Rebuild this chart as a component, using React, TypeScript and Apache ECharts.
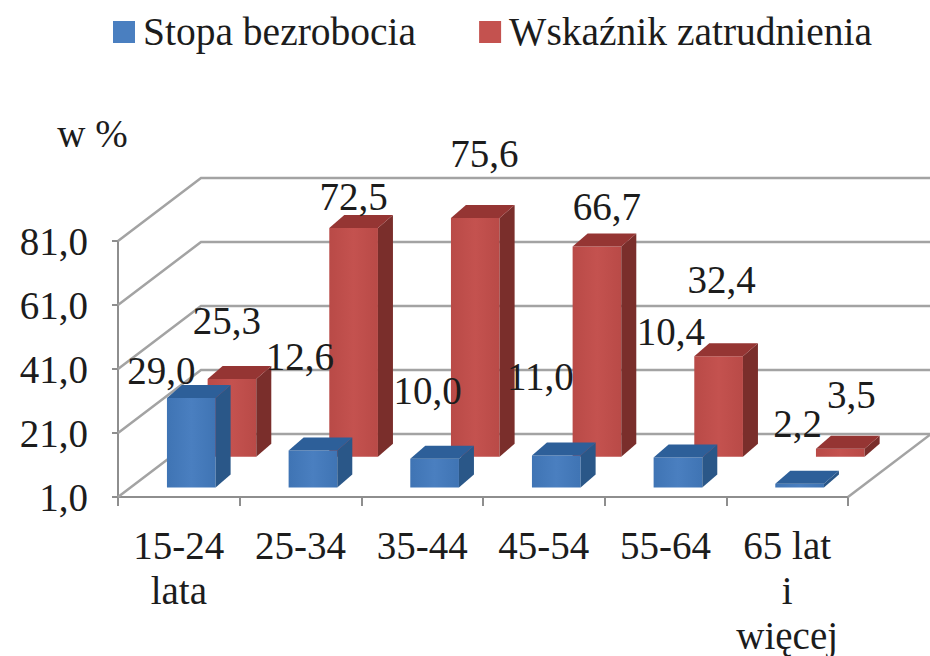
import React, { useEffect, useRef } from "react";
import * as echarts from "echarts";

const categories = ["15-24\nlata", "25-34", "35-44", "45-54", "55-64", "65 lat\ni\nwięcej"];
const unemployment = [29.0, 12.6, 10.0, 11.0, 10.4, 2.2];
const employment = [25.3, 72.5, 75.6, 66.7, 32.4, 3.5];
const valueTicks = [1, 21, 41, 61, 81];

const FONT = '"Liberation Serif", serif';
const DEPTH_X = 83;
const DEPTH_Y = 63;

const fmt = (v: number) => v.toFixed(1).replace(".", ",");

// Hand placement of the reference's data labels, relative to each bar's top centre.
const unemploymentNudges = [[-30, -27], [-13, -94], [-7, -68], [-16, -79], [-7, -126], [-2, -60]];
const employmentNudges = [[-5, -58], [0, -31], [9, -64], [10, -40], [3, -77], [11, -54]];

function barSeries(
  name: string,
  values: number[],
  nudges: number[][],
  depthShare: number,
  colors: { front: string; frontDark: string; side: string; top: string },
  z: number
) {
  return {
    name,
    type: "custom",
    z,
    data: values.map((v, i) => [i, v]),
    itemStyle: { color: colors.front },
    renderItem: (params: any, api: any) => {
      const i = api.value(0);
      const v = api.value(1);
      const top = api.coord([i, v]);
      const base = api.coord([i, valueTicks[0]]);
      const w = api.size([1, 0])[0] * 0.4;
      const ox = DEPTH_X * depthShare;
      const oy = DEPTH_Y * depthShare;
      const l = top[0] + ox - w / 2;
      const r = l + w;
      const t = top[1] - oy;
      const b = base[1] - oy;
      const sx = 15;
      const sy = 13;
      const poly = (points: number[][], fill: any) => ({ type: "polygon", shape: { points }, style: { fill } });
      const frontFill = new echarts.graphic.LinearGradient(0, 0, 1, 0, [
        { offset: 0, color: colors.frontDark },
        { offset: 0.5, color: colors.front },
        { offset: 1, color: colors.frontDark },
      ]);
      return {
        type: "group",
        children: [
          poly([[l, t], [r, t], [r, b], [l, b]], frontFill),
          poly([[r, t], [r + sx, t - sy], [r + sx, b - sy], [r, b]], colors.side),
          poly([[l, t], [l + sx, t - sy], [r + sx, t - sy], [r, t]], colors.top),
          {
            type: "text",
            z2: 10,
            style: {
              text: fmt(v),
              x: (l + r) / 2 + nudges[i][0],
              y: t + nudges[i][1],
              align: "center",
              verticalAlign: "middle",
              font: `39px ${FONT}`,
              fill: "#1c1c1c",
            },
          },
        ],
      };
    },
  };
}

const wallSeries = {
  type: "custom",
  z: 1,
  silent: true,
  data: valueTicks.map((v) => [0, v]),
  renderItem: (params: any, api: any) => {
    const y = api.coord([0, api.value(1)])[1];
    const cs = params.coordSys;
    const stroke = "#a3a3a3";
    const children: any[] = [
      {
        type: "polyline",
        shape: {
          points: [
            [cs.x, y],
            [cs.x + DEPTH_X, y - DEPTH_Y],
            [cs.x + cs.width + DEPTH_X, y - DEPTH_Y],
          ],
        },
        style: { stroke, lineWidth: 2.5, fill: "none" },
      },
    ];
    if (params.dataIndex === 0) {
      children.push({
        type: "line",
        shape: { x1: cs.x + cs.width, y1: y, x2: cs.x + cs.width + DEPTH_X, y2: y - DEPTH_Y },
        style: { stroke, lineWidth: 2.5 },
      });
    }
    return { type: "group", children };
  },
};

export default function App() {
  const ref = useRef<HTMLDivElement>(null);
  useEffect(() => {
    const chart = echarts.init(ref.current!, undefined, { renderer: "svg" });
    const axisLine = { show: true, lineStyle: { color: "#8e8e8e", width: 2 } };
    chart.setOption({
      animation: false,
      backgroundColor: "#ffffff",
      legend: {
        left: 113,
        top: 12,
        padding: 0,
        itemWidth: 22,
        itemHeight: 22,
        itemGap: 63,
        icon: "rect",
        data: ["Stopa bezrobocia", "Wskaźnik zatrudnienia"],
        textStyle: { fontFamily: FONT, fontSize: 39.5, color: "#1c1c1c", padding: [0, 0, 0, 3] },
      },
      grid: { left: 118, right: 82, top: 241, bottom: 159, outerBoundsMode: "none" },
      xAxis: {
        type: "category",
        data: categories,
        axisLine,
        axisTick: { show: true, length: 9, lineStyle: { color: "#8e8e8e", width: 2 } },
        axisLabel: {
          fontFamily: FONT,
          fontSize: 39,
          lineHeight: 45,
          color: "#1c1c1c",
          margin: 26,
          interval: 0,
        },
        splitLine: { show: false },
      },
      yAxis: {
        type: "value",
        min: valueTicks[0],
        max: valueTicks[valueTicks.length - 1],
        name: "w %",
        nameLocation: "end",
        nameGap: 88,
        nameTextStyle: { fontFamily: FONT, fontSize: 39, color: "#1c1c1c", align: "center", padding: [0, 51, 0, 0] },
        axisLine,
        axisTick: { show: true, length: 6, customValues: valueTicks, lineStyle: { color: "#8e8e8e", width: 2 } },
        axisLabel: {
          fontFamily: FONT,
          fontSize: 39,
          color: "#1c1c1c",
          margin: 30,
          customValues: valueTicks,
          formatter: (v: number) => fmt(v),
        },
        splitLine: { show: false },
      },
      series: [
        wallSeries,
        barSeries(
          "Wskaźnik zatrudnienia",
          employment,
          employmentNudges,
          0.64,
          { front: "#c4524f", frontDark: "#b94a47", side: "#7a2e2b", top: "#953533" },
          3
        ),
        barSeries(
          "Stopa bezrobocia",
          unemployment,
          unemploymentNudges,
          0.15,
          { front: "#4a7fc0", frontDark: "#3f74b4", side: "#2a5788", top: "#2d5f99" },
          4
        ),
      ],
    });
    return () => chart.dispose();
  }, []);
  return <div ref={ref} style={{ position: "absolute", left: 0, top: 0, width: 930, height: 656 }} />;
}
